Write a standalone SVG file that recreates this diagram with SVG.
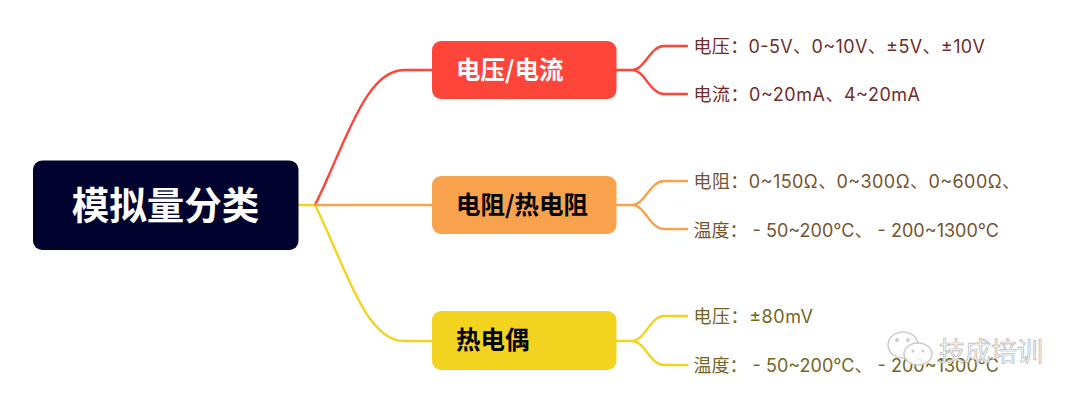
<svg xmlns="http://www.w3.org/2000/svg" width="1080" height="400" viewBox="0 0 1080 400">
<style>
text{font-family:"Noto Sans CJK SC","Noto Sans",sans-serif}
.c{fill:none;stroke-width:2.4;stroke-linecap:round}
.h{font-size:24.500px;font-weight:700}
.t{font-size:18px;font-family:"Inter","Noto Sans CJK SC",sans-serif}
.r{stroke:#fe4539}.o{stroke:#f9a24e}.y{stroke:#f2d31f}
.tr{fill:#732b27}.to{fill:#74532f}.ty{fill:#73651f}
</style>
<rect width="1080" height="400" fill="#fff"/>
<g id="connectors">
<path class="c y" d="M298 205H315"/>
<path class="c r" d="M315 205C345 145 365 70 404 70H432"/>
<path class="c y" d="M315 205C345 265 365 341 404 341H432"/>
<path class="c o" d="M315 205H432"/>
<path class="c r" d="M616 70H632C645 70 650 46 664 46H687M632 70C645 70 650 94 664 94H687"/>
<path class="c o" d="M616 205H632C645 205 650 181 664 181H687M632 205C645 205 650 229 664 229H687"/>
<path class="c y" d="M616 341H632C645 341 650 316 664 316H687M632 341C645 341 650 365 664 365H687"/>
</g>
<g id="root"><rect x="33" y="160.500" width="265.500" height="89.500" rx="9" fill="#02022f"/><text x="165.500" y="219" text-anchor="middle" font-size="37.500" font-weight="700" fill="#fff">模拟量分类</text></g>
<g id="n1"><rect x="432" y="41" width="184.500" height="58" rx="9" fill="#fe4539"/><text class="h" x="456" y="79" fill="#fff">电压/电流</text></g>
<g id="n2"><rect x="432" y="176" width="184.500" height="58" rx="9" fill="#f9a24e"/><text class="h" x="456" y="214" fill="#000">电阻/热电阻</text></g>
<g id="n3"><rect x="432" y="311" width="184.500" height="59" rx="9" fill="#f2d31f"/><text class="h" x="456" y="349" fill="#000">热电偶</text></g>
<g id="l1"><text class="t tr" x="693.500" y="52.500" textLength="291.500">电压：0-5V、0~10V、±5V、±10V</text></g>
<g id="l2"><text class="t tr" x="693.500" y="100.500" textLength="226.500">电流：0~20mA、4~20mA</text></g>
<g id="l3"><text class="t to" x="693.500" y="187.500" textLength="326.500">电阻：0~150Ω、0~300Ω、0~600Ω、</text></g>
<g id="l4"><text class="t to" x="693.500" y="236.500" textLength="305.500">温度： - 50~200℃、 - 200~1300℃</text></g>
<g id="l5"><text class="t ty" x="693.500" y="322.500" textLength="119.500">电压：±80mV</text></g>
<g id="l6"><text class="t ty" x="693.500" y="371.500" textLength="305.500">温度： - 50~200℃、 - 200~1300℃</text></g>
<g id="watermark" opacity="0.92">
<ellipse cx="903" cy="345" rx="15" ry="13" fill="#fff" stroke="#c8c8c8" stroke-width="1.500"/>
<ellipse cx="918" cy="354" rx="14" ry="11" fill="#fff" stroke="#c8c8c8" stroke-width="1.500"/>
<circle cx="897" cy="340" r="2" fill="#c8c8c8"/><circle cx="908" cy="340" r="2" fill="#c8c8c8"/>
<circle cx="913" cy="351" r="1.500" fill="#c8c8c8"/><circle cx="923" cy="351" r="1.500" fill="#c8c8c8"/>
<text x="939" y="361" font-size="26" fill="#fff" stroke="#aaa" stroke-width="0.700">技成培训</text>
</g>
</svg>
